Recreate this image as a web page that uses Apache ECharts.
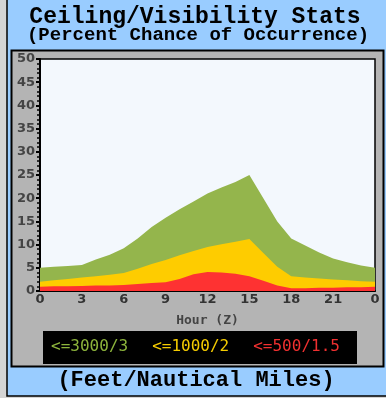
<!DOCTYPE html>
<html>
<head>
<meta charset="utf-8">
<script src="https://cdn.jsdelivr.net/npm/echarts@6/dist/echarts.min.js"></script>
<style>
  html, body { margin: 0; padding: 0; background: #d4d4d4; }
  #chart { width: 386px; height: 398px; }
</style>
</head>
<body>
<div id="chart"></div>
<script>
  // hours 0..24 (24 shown as "0")
  var hours = [0,1,2,3,4,5,6,7,8,9,10,11,12,13,14,15,16,17,18,19,20,21,22,23,24];
  var le3000 = [5.0,5.2,5.4,5.6,6.8,7.8,9.2,11.3,13.8,15.8,17.6,19.3,21.0,22.3,23.5,25.0,20.0,15.0,11.3,9.8,8.3,7.0,6.2,5.5,5.0];
  var le1000 = [2.0,2.3,2.6,2.9,3.2,3.5,3.9,4.8,5.8,6.7,7.7,8.6,9.5,10.1,10.6,11.2,8.2,5.2,3.2,2.9,2.7,2.5,2.3,2.1,2.0];
  var le500  = [0.9,1.0,1.0,1.1,1.2,1.2,1.3,1.5,1.7,1.9,2.6,3.6,4.1,4.0,3.7,3.2,2.2,1.2,0.6,0.6,0.7,0.7,0.8,0.8,0.9];
  var names = ['<=3000/3', '<=1000/2', '<=500/1.5'];
  var colors = ['#94b54c', '#fecc00', '#fe3232'];
  var legendColors = ['#8db43c', '#f5cc00', '#f03030'];

  function pairs(vals) {
    return hours.map(function (h, i) { return [h, vals[i]]; });
  }

  var chart = echarts.init(document.getElementById('chart'));
  var series = [le3000, le1000, le500].map(function (vals, i) {
    return {
      name: names[i],
      type: 'line',
      data: pairs(vals),
      showSymbol: false,
      lineStyle: { width: 0 },
      itemStyle: { color: colors[i] },
      areaStyle: { color: colors[i], opacity: 1 },
      z: 2 + i,
      silent: true
    };
  });

  chart.setOption({
    animation: false,
    backgroundColor: '#d4d4d4',
    graphic: [
      { type: 'rect', shape: { x: 7, y: -5, width: 390, height: 401 },
        style: { fill: '#99ccff', stroke: '#000', lineWidth: 1.5 }, z: -10 },
      { type: 'rect', shape: { x: 11.5, y: 50.5, width: 372, height: 316 },
        style: { fill: '#b4b4b4', stroke: '#000', lineWidth: 2 }, z: -9 },
      { type: 'rect', shape: { x: 43, y: 331, width: 314, height: 33 },
        style: { fill: '#000' }, z: -8 },
      { type: 'text', x: 195, y: 17,
        style: { text: 'Ceiling/Visibility Stats', textAlign: 'center', textVerticalAlign: 'middle',
                 font: 'bold 23px "Liberation Mono"', fill: '#000' } },
      { type: 'text', x: 198, y: 35,
        style: { text: '(Percent Chance of Occurrence)', textAlign: 'center', textVerticalAlign: 'middle',
                 font: 'bold 19px "Liberation Mono"', fill: '#000' } },
      { type: 'text', x: 196, y: 380,
        style: { text: '(Feet/Nautical Miles)', textAlign: 'center', textVerticalAlign: 'middle',
                 font: 'bold 22px "Liberation Mono"', fill: '#000' } }
    ],
    legend: {
      top: 334,
      left: 'center',
      icon: 'none',
      itemWidth: 0,
      itemGap: 19,
      selectedMode: false,
      textStyle: { fontFamily: 'DejaVu Sans Mono', fontSize: 16 },
      data: names.map(function (n, i) {
        return { name: n, textStyle: { color: legendColors[i] } };
      })
    },
    grid: {
      left: 40, top: 59, right: 11, bottom: 107,
      show: true, backgroundColor: '#f3f8fd', borderColor: '#000', borderWidth: 1.5
    },
    xAxis: {
      type: 'value', min: 0, max: 24, interval: 3,
      name: 'Hour (Z)', nameLocation: 'middle', nameGap: 23,
      nameTextStyle: { fontFamily: 'DejaVu Sans Mono', fontWeight: 'bold', fontSize: 13, color: '#444' },
      axisLine: { show: true, lineStyle: { color: '#000', width: 2 } },
      axisTick: { show: false },
      splitLine: { show: false },
      axisLabel: {
        margin: 2, color: '#333', fontWeight: 'bold', fontSize: 13, fontFamily: 'DejaVu Sans',
        formatter: function (v) { return String(v % 24); }
      }
    },
    yAxis: {
      type: 'value', min: 0, max: 50, interval: 5,
      axisLine: { show: true, lineStyle: { color: '#000', width: 2 } },
      axisTick: { show: true, length: 4, lineStyle: { color: '#000', width: 2 } },
      minorTick: { show: true, splitNumber: 5, length: 3, lineStyle: { color: '#000', width: 1.5 } },
      splitLine: { show: false },
      axisLabel: { margin: 5, color: '#444', fontWeight: 'bold', fontSize: 13, fontFamily: 'DejaVu Sans' }
    },
    series: series
  });
</script>
</body>
</html>
